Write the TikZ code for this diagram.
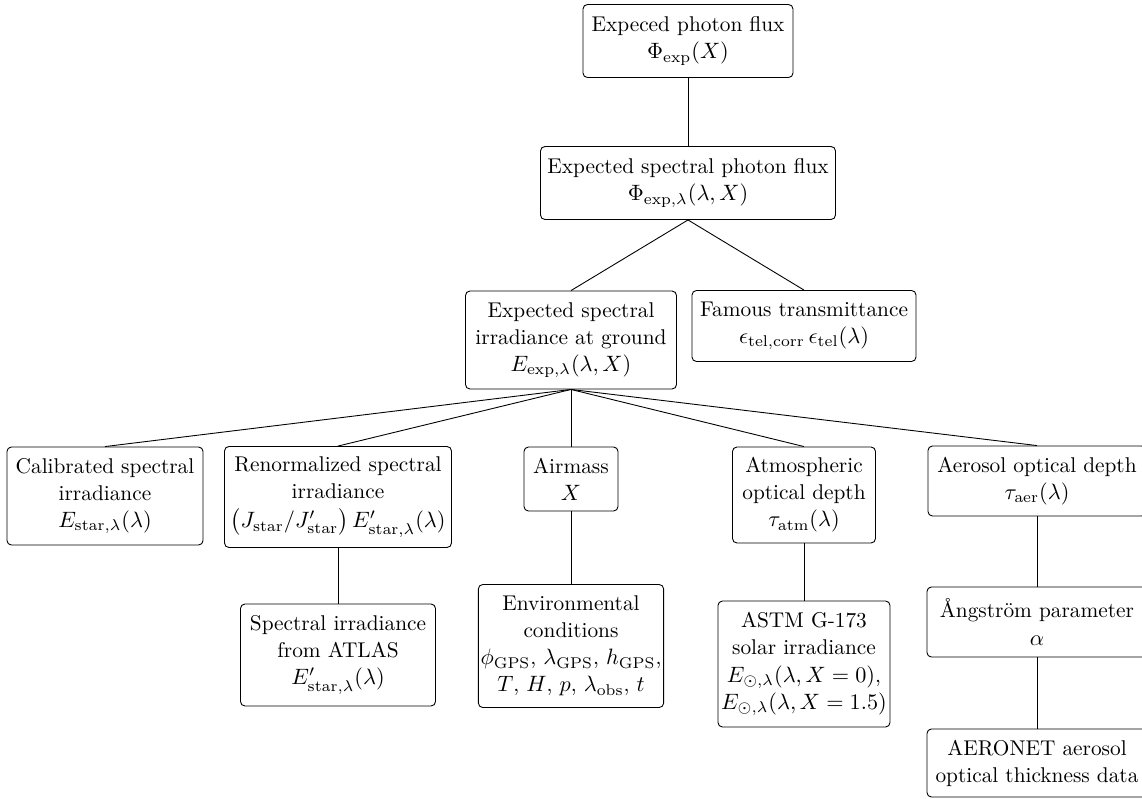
\documentclass[tikz,border=0pt]{standalone}
\usepackage{amsmath}
\begin{document}
\begin{tikzpicture}[x=0.45pt,y=-0.45pt,
  box/.style 2 args={draw, rounded corners=2pt, align=center, inner sep=1pt,
    minimum width={#1*0.45pt}, minimum height={#2*0.45pt},
    font=\fontsize{9.6}{12.2}\selectfont},
  link/.style={draw, line width=0.4pt}]
\useasboundingbox (0,0) rectangle (1142,798);

% top of the tree
\node[box={210}{73}] (flux) at (688,41) {Expeced photon flux\\ $\Phi_{\mathrm{exp}}(X)$};
\node[box={295}{73}] (sflux) at (688,183) {Expected spectral photon flux\\ $\Phi_{\mathrm{exp},\lambda}(\lambda,X)$};
\node[box={211}{98}] (ground) at (571,340) {Expected spectral\\ irradiance at ground\\ $E_{\mathrm{exp},\lambda}(\lambda,X)$};
\node[box={224}{71}] (trans) at (804,326) {Famous transmittance\\ $\epsilon_{\mathrm{tel,corr}}\,\epsilon_{\mathrm{tel}}(\lambda)$};

% inputs of the ground irradiance
\node[box={196}{98}] (cal) at (105,496) {Calibrated spectral\\ irradiance\\ $E_{\mathrm{star},\lambda}(\lambda)$};
\node[box={227}{101}] (renorm) at (338,497) {Renormalized spectral\\ irradiance\\[1pt] $\bigl(J_{\mathrm{star}}/J'_{\mathrm{star}}\bigr)\,E'_{\mathrm{star},\lambda}(\lambda)$};
\node[box={94}{64}] (airmass) at (571,479) {Airmass\\ $X$};
\node[box={143}{96}] (atm) at (804,495) {Atmospheric\\ optical depth\\ $\tau_{\mathrm{atm}}(\lambda)$};
\node[box={218}{70}] (aer) at (1037,481) {Aerosol optical depth\\ $\tau_{\mathrm{aer}}(\lambda)$};

% data sources
\node[box={195}{102}] (atlas) at (338,655) {Spectral irradiance\\ from ATLAS\\ $E'_{\mathrm{star},\lambda}(\lambda)$};
\node[box={179}{123}] (env) at (571,646) {Environmental\\ conditions\\ $\phi_{\mathrm{GPS}}$, $\lambda_{\mathrm{GPS}}$, $h_{\mathrm{GPS}}$,\\ $T$, $H$, $p$, $\lambda_{\mathrm{obs}}$, $t$};
\node[box={172}{126}] (astm) at (804,664) {ASTM G-173\\ solar irradiance\\ $E_{\odot,\lambda}(\lambda,X=0)$,\\ $E_{\odot,\lambda}(\lambda,X=1.5)$};
\node[box={220}{70}] (ang) at (1037,622) {\AA ngstr\"om parameter\\ $\alpha$};
\node[box={220}{68}] (aeronet) at (1037,763) {AERONET aerosol\\ optical thickness data};

% connectors
\path[link] (flux.south) -- (sflux.north);
\path[link] (sflux.south) -- (ground.north);
\path[link] (sflux.south) -- (trans.north);
\foreach \c in {cal,renorm,airmass,atm,aer}
  \path[link] (ground.south) -- (\c.north);
\path[link] (renorm.south) -- (atlas.north);
\path[link] (airmass.south) -- (env.north);
\path[link] (atm.south) -- (astm.north);
\path[link] (aer.south) -- (ang.north);
\path[link] (ang.south) -- (aeronet.north);
\end{tikzpicture}
\end{document}
